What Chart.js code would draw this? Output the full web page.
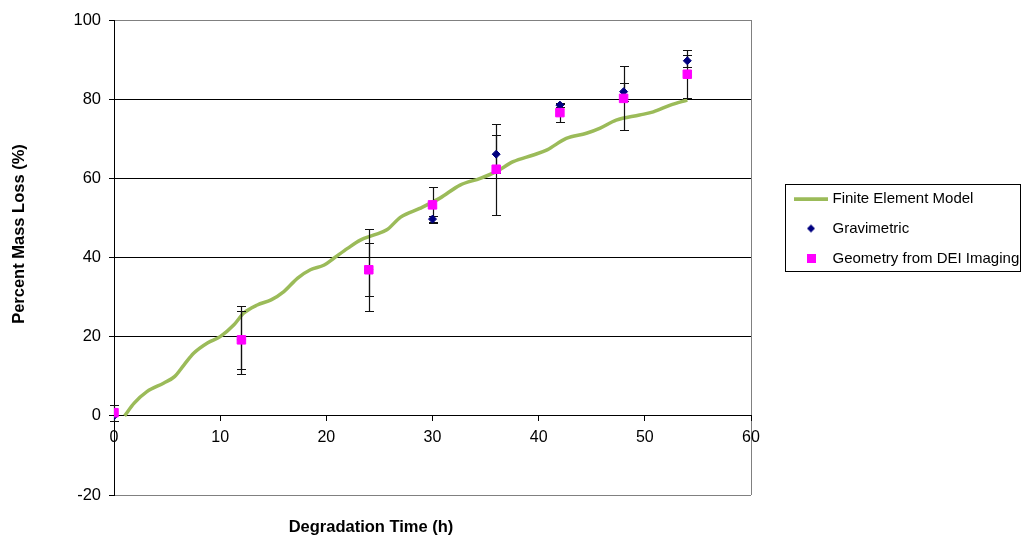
<!DOCTYPE html>
<html>
<head>
<meta charset="utf-8">
<script src="https://cdn.jsdelivr.net/npm/chart.js@4.4.0/dist/chart.umd.min.js"></script>
<style>
  html, body { margin: 0; padding: 0; background: #fff; }
</style>
</head>
<body>
<canvas id="myChart" width="1022" height="540"></canvas>
<script>
// Finite element model curve
const femTime = [1, 1.9, 3.1, 4.7, 5.7, 6.6, 7.5, 8.8, 10, 11.3, 12.2, 13.5, 14.8, 16, 17.3, 18.5, 19.8, 20.7, 22, 23.2, 24.5, 25.7, 27, 28.8, 30.7, 32.6, 34.5, 36, 37.6, 39.5, 40.8, 42.6, 44.5, 45.8, 47.3, 49.5, 50.8, 52.4, 54];
const femLoss = [0, 3.2, 6.1, 8.3, 9.9, 12.9, 15.8, 18.4, 20, 23, 25.9, 28, 29.3, 31.4, 34.8, 36.9, 38.1, 39.8, 42.3, 44.4, 45.7, 47, 50.2, 52.4, 55, 58.3, 60, 61.7, 64.2, 65.9, 67.2, 70.1, 71.4, 72.7, 74.7, 76, 76.8, 78.5, 79.8];

// measured samples
const sampleTime = [0, 12, 24, 30, 36, 42, 48, 54];
const gravLoss = [0, 19.2, 36.9, 49.7, 66.1, 78.5, 81.9, 89.7];
const gravErr = [0, 7.3, 6.7, 0.8, 4.8, 0.5, 2.3, 1.5];
const deiLoss = [0.8, 19.2, 36.9, 53.3, 62.3, 76.6, 80.2, 86.3];
const deiErr = [2, 8.6, 10.3, 4.5, 11.5, 2.3, 8.1, 6];

// axes
const xTicks = [0, 10, 20, 30, 40, 50, 60];
const yTicks = [-20, 0, 20, 40, 60, 80, 100];
const yGrid = [0, 20, 40, 60, 80];

Chart.defaults.font.family = "'Liberation Sans', Arial, sans-serif";
Chart.defaults.color = "#000";

const toPoints = (xs, ys) => xs.map((x, i) => ({ x: x, y: ys[i] }));

// legend icons
function icon(w, h, draw) {
  const c = document.createElement("canvas");
  c.width = w;
  c.height = h;
  draw(c.getContext("2d"));
  return c;
}
const lineIcon = icon(34, 4, (g) => {
  g.fillStyle = "#9bbb59";
  g.fillRect(0, 0.5, 34, 3.5);
});
const diamondIcon = icon(10, 10, (g) => {
  g.fillStyle = "#000080";
  g.beginPath();
  g.moveTo(5, 1);
  g.lineTo(9, 5);
  g.lineTo(5, 9);
  g.lineTo(1, 5);
  g.closePath();
  g.fill();
});
const squareIcon = icon(9, 9, (g) => {
  g.fillStyle = "#ff00ff";
  g.fillRect(0, 0, 9, 9);
});
const legendIcons = [lineIcon, diamondIcon, squareIcon];

function drawErrorBars(chart, vals, errs) {
  const ctx = chart.ctx;
  const xs = chart.scales.x;
  const ys = chart.scales.y;
  sampleTime.forEach((t, i) => {
    if (!errs[i]) return;
    const px = Math.round(xs.getPixelForValue(t)) + 0.5;
    const top = Math.round(ys.getPixelForValue(vals[i] + errs[i])) + 0.5;
    const bot = Math.round(ys.getPixelForValue(vals[i] - errs[i])) + 0.5;
    ctx.beginPath();
    ctx.moveTo(px, top);
    ctx.lineTo(px, bot);
    ctx.moveTo(px - 4.5, top);
    ctx.lineTo(px + 4.5, top);
    ctx.moveTo(px - 4.5, bot);
    ctx.lineTo(px + 4.5, bot);
    ctx.stroke();
  });
}

const extras = {
  id: "extras",
  afterLayout(chart) {
    // put the legend to the right of the plot
    const lg = chart.legend;
    lg.left = 782;
    lg.top = 176;
    lg.width = 260;
    lg.height = 140;
    lg.right = lg.left + lg.width;
    lg.bottom = lg.top + lg.height;
  },
  afterDatasetDraw(chart, args) {
    if (args.index !== 0) return;
    const ctx = chart.ctx;
    ctx.save();
    ctx.strokeStyle = "#111";
    ctx.lineWidth = 1.2;
    drawErrorBars(chart, gravLoss, gravErr);
    drawErrorBars(chart, deiLoss, deiErr);
    ctx.restore();
  },
  afterDraw(chart) {
    const ctx = chart.ctx;
    ctx.save();
    // legend frame
    ctx.strokeStyle = "#000";
    ctx.lineWidth = 1;
    ctx.strokeRect(785.5, 184.5, 235, 87);
    // axis titles
    ctx.fillStyle = "#000";
    ctx.font = "bold 16.5px 'Liberation Sans', Arial, sans-serif";
    ctx.textAlign = "center";
    ctx.textBaseline = "middle";
    ctx.fillText("Degradation Time (h)", 371, 527);
    ctx.translate(19, 234);
    ctx.rotate(-Math.PI / 2);
    ctx.fillText("Percent Mass Loss (%)", 0, 0);
    ctx.restore();
  },
};

const ctx = document.getElementById("myChart");

new Chart(ctx, {
  type: "scatter",
  data: {
    datasets: [
      {
        label: "Finite Element Model",
        data: toPoints(femTime, femLoss),
        showLine: true,
        borderColor: "#9bbb59",
        borderWidth: 3.5,
        pointRadius: 0,
        cubicInterpolationMode: "monotone",
        order: 3,
      },
      {
        label: "Gravimetric",
        data: toPoints(sampleTime, gravLoss),
        pointStyle: "rectRot",
        pointRadius: 4,
        backgroundColor: "#000080",
        borderColor: "#000080",
        borderWidth: 1,
        order: 2,
      },
      {
        label: "Geometry from DEI Imaging",
        data: toPoints(sampleTime, deiLoss),
        pointStyle: "rect",
        pointRadius: 6,
        backgroundColor: "#ff00ff",
        borderColor: "#ff00ff",
        borderWidth: 1,
        order: 1,
      },
    ],
  },
  options: {
    responsive: false,
    animation: false,
    layout: {
      padding: { left: 0, top: 20, right: 271, bottom: 45 },
    },
    scales: {
      x: {
        type: "linear",
        position: { y: 0 },
        min: 0,
        max: 60,
        afterBuildTicks: (s) => {
          s.ticks = xTicks.map((v) => ({ value: v }));
        },
        grid: {
          drawOnChartArea: true,
          color: (c) => (c.tick && c.tick.value === 60 ? "#808080" : "rgba(0,0,0,0)"),
          tickColor: "#000",
          tickLength: 5,
        },
        border: { display: true, color: "#000" },
        ticks: { font: { size: 16 }, padding: 7, maxRotation: 0 },
      },
      y: {
        type: "linear",
        min: -20,
        max: 100,
        afterBuildTicks: (s) => {
          s.ticks = yTicks.map((v) => ({ value: v }));
        },
        afterFit: (s) => {
          s.width = 114;
        },
        grid: {
          color: (c) => (c.tick && yGrid.includes(c.tick.value) ? "#000" : "#808080"),
          tickColor: "#000",
          tickLength: 5,
        },
        border: { display: true, color: "#000" },
        ticks: { font: { size: 16.5 }, padding: 8 },
      },
    },
    plugins: {
      tooltip: { enabled: false },
      legend: {
        position: "chartArea",
        align: "start",
        labels: {
          usePointStyle: true,
          pointStyleWidth: 28,
          padding: 15,
          font: { size: 15 },
          color: "#000",
          sort: (a, b) => a.datasetIndex - b.datasetIndex,
          generateLabels: (chart) => {
            const items = Chart.defaults.plugins.legend.labels.generateLabels(chart);
            items.forEach((it) => {
              it.pointStyle = legendIcons[it.datasetIndex];
            });
            return items;
          },
        },
      },
    },
  },
  plugins: [extras],
});
</script>
</body>
</html>
